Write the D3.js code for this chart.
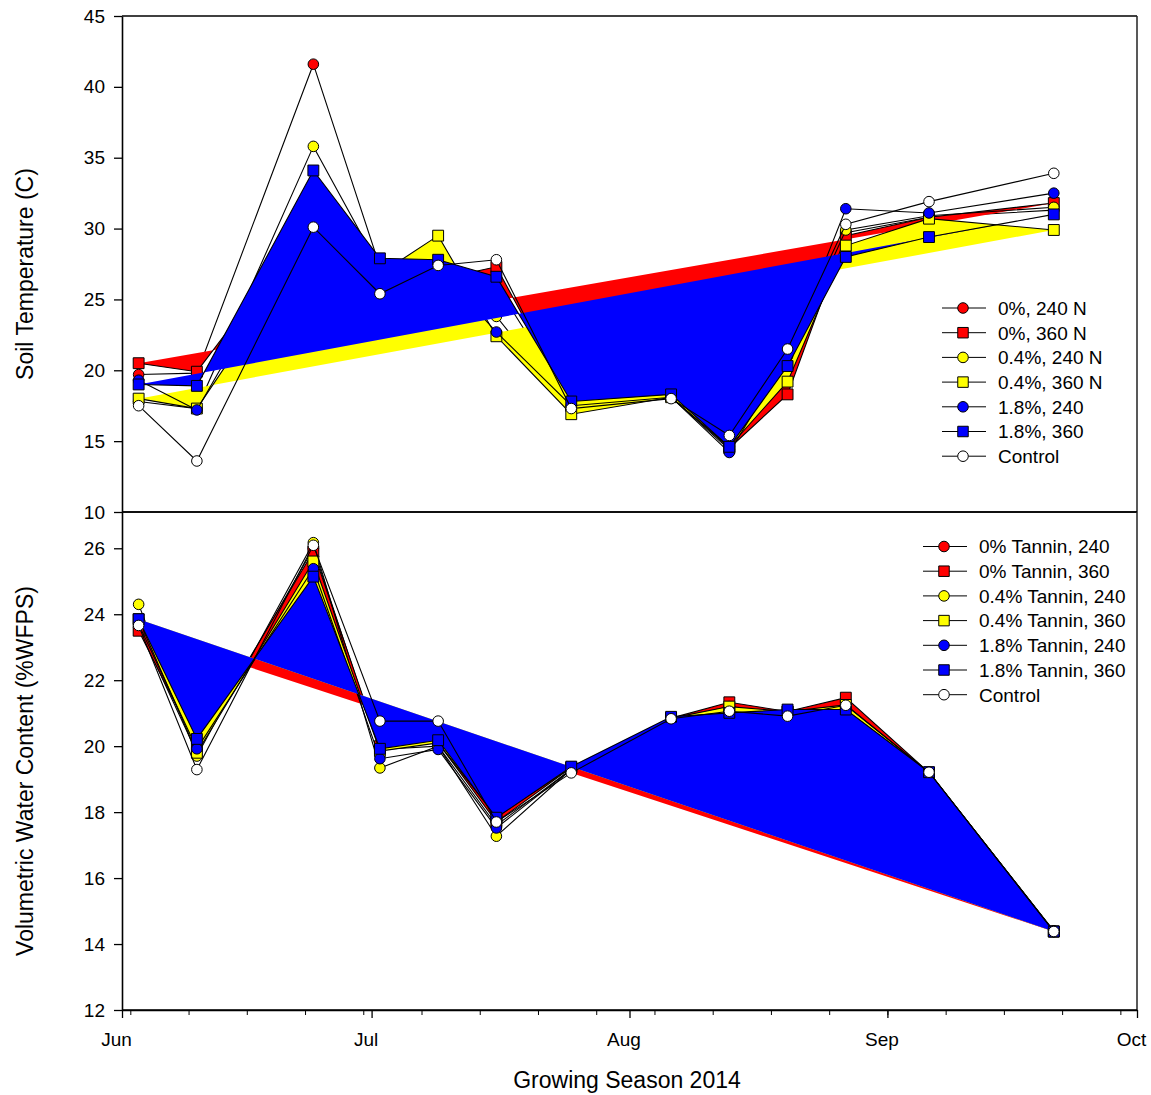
<!DOCTYPE html>
<html>
<head>
<meta charset="utf-8">
<script src="https://cdn.jsdelivr.net/npm/d3@7"></script>
<style>
  body { margin: 0; background: #fff; }
  svg text { font-family: "Liberation Sans", Arial, sans-serif; fill: #000; }
</style>
</head>
<body>
<svg id="chart" width="1151" height="1095"></svg>
<script>
// sampling dates, growing season 2014
var dates = ["2014-06-03", "2014-06-10", "2014-06-24", "2014-07-02", "2014-07-09", "2014-07-16",
             "2014-07-25", "2014-08-06", "2014-08-13", "2014-08-20", "2014-08-27", "2014-09-06", "2014-09-21"];

var tempNames = ["0%, 240 N", "0%, 360 N", "0.4%, 240 N", "0.4%, 360 N", "1.8%, 240", "1.8%, 360", "Control"];
var waterNames = ["0% Tannin, 240", "0% Tannin, 360", "0.4% Tannin, 240", "0.4% Tannin, 360",
                  "1.8% Tannin, 240", "1.8% Tannin, 360", "Control"];
var seriesColors = ["#ff0000", "#ff0000", "#ffff00", "#ffff00", "#0000ff", "#0000ff", "#ffffff"];
var seriesShapes = ["circle", "square", "circle", "square", "circle", "square", "circle"];

// soil temperature (C)
var temp0_240   = [19.7, 19.8, 41.6, 27.3, 27.0, 26.0, 17.6, 18.1, 14.4, 20.5, 29.7, 30.8, 31.3];
var temp0_360   = [20.5, 19.9, 30.8, 27.0, 26.4, 27.3, 17.5, 18.2, 14.5, 18.3, 29.5, 30.8, 31.8];
var temp04_240  = [17.8, 17.3, 35.8, 27.2, 26.5, 23.8, 17.2, 18.1, 14.6, 20.8, 29.9, 30.9, 31.5];
var temp04_360  = [18.0, 17.3, 29.5, 26.8, 29.5, 22.4, 16.9, 18.1, 14.6, 19.2, 28.8, 30.7, 29.9];
var temp18_240  = [19.3, 17.2, 31.5, 26.5, 27.2, 22.7, 17.5, 18.1, 14.2, 21.0, 31.4, 31.1, 32.5];
var temp18_360  = [19.0, 18.9, 34.1, 27.9, 27.8, 26.6, 17.8, 18.3, 14.6, 20.3, 28.0, 29.4, 31.0];
var tempControl = [17.5, 13.6, 30.1, 25.4, 27.4, 27.8, 17.3, 18.0, 15.4, 21.5, 30.3, 31.9, 33.9];

// volumetric water content (%WFPS)
var vwc0_240   = [23.6, 19.8, 26.0, 19.9, 20.0, 17.6, 19.3, 20.8, 21.1, 21.0, 21.2, 19.2, 14.4];
var vwc0_360   = [23.5, 20.0, 25.9, 20.0, 20.1, 17.7, 19.35, 20.85, 21.33, 21.05, 21.47, 19.2, 14.38];
var vwc04_240  = [24.3, 19.7, 26.17, 19.34, 20.0, 17.27, 19.3, 20.8, 21.2, 21.0, 21.2, 19.2, 14.38];
var vwc04_360  = [23.85, 19.8, 25.6, 19.85, 20.1, 17.85, 19.35, 20.85, 21.2, 21.05, 21.25, 19.2, 14.38];
var vwc18_240  = [23.7, 19.92, 25.38, 19.62, 19.9, 17.52, 19.3, 20.85, 21.0, 21.05, 21.1, 19.2, 14.38];
var vwc18_360  = [23.85, 20.22, 25.14, 19.92, 20.18, 17.83, 19.38, 20.89, 21.01, 21.11, 21.11, 19.21, 14.38];
var vwcControl = [23.66, 19.29, 26.09, 20.76, 20.76, 17.7, 19.19, 20.83, 21.06, 20.91, 21.24, 19.21, 14.38];

var tempTicks = [10, 15, 20, 25, 30, 35, 40, 45];
var vwcTicks = [12, 14, 16, 18, 20, 22, 24, 26];

var parseDate = d3.timeParse("%Y-%m-%d");
var when = dates.map(parseDate);

var svg = d3.select("#chart");
var left = 122, right = 1137;

var x = d3.scaleTime()
  .domain([parseDate("2014-06-01"), parseDate("2014-10-01")])
  .range([left, right]);

function buildSeries(names, lists) {
  return names.map(function(n, i) {
    return { name: n, values: lists[i], color: seriesColors[i], shape: seriesShapes[i],
             filled: seriesShapes[i] == "square" && i < 6 };
  });
}

function markerPath(shape) {
  if (shape == "square") return d3.symbol().type(d3.symbolSquare).size(118)();
  return d3.symbol().type(d3.symbolCircle).size(88)();
}

// draws one panel: fills, lines, symbols, y axis, frame, legend
function drawPanel(series, domain, top, bottom, ticks, title, legend) {
  var y = d3.scaleLinear().domain(domain).range([bottom, top]);
  var g = svg.append("g");

  var line = d3.line()
    .x(function(d, i) { return x(when[i]); })
    .y(function(d) { return y(d); });

  series.forEach(function(s) {
    // SigmaPlot style area fill: the polyline closed from last point back to first
    if (s.filled) {
      g.append("path")
        .attr("d", line(s.values) + "Z")
        .attr("fill", s.color)
        .attr("stroke", "none");
    }
    g.append("path")
      .attr("d", line(s.values))
      .attr("fill", "none")
      .attr("stroke", "#000")
      .attr("stroke-width", 1.1);
    g.selectAll(null)
      .data(s.values)
      .enter().append("path")
      .attr("d", markerPath(s.shape))
      .attr("transform", function(d, i) { return "translate(" + x(when[i]) + "," + y(d) + ")"; })
      .attr("fill", s.color)
      .attr("stroke", "#000")
      .attr("stroke-width", 1);
  });

  // frame
  g.append("line").attr("x1", left).attr("x2", right).attr("y1", top).attr("y2", top)
    .attr("stroke", "#000").attr("stroke-width", 1.3);
  g.append("line").attr("x1", right).attr("x2", right).attr("y1", top).attr("y2", bottom)
    .attr("stroke", "#222").attr("stroke-width", 1.5);
  g.append("line").attr("x1", left).attr("x2", right).attr("y1", bottom).attr("y2", bottom)
    .attr("stroke", "#000").attr("stroke-width", 1.3);

  var yAxis = g.append("g")
    .attr("transform", "translate(" + left + ",0)")
    .call(d3.axisLeft(y).tickValues(ticks).tickSize(8).tickSizeOuter(0).tickPadding(9));
  yAxis.selectAll("text").style("font-size", "19px");
  yAxis.select(".domain").attr("stroke-width", 1.6);
  yAxis.selectAll(".tick line").attr("stroke-width", 1.3);

  svg.append("text")
    .attr("transform", "translate(33," + ((top + bottom) / 2 + 10) + ") rotate(-90)")
    .attr("text-anchor", "middle")
    .style("font-size", "23px")
    .text(title);

  var lg = svg.append("g").attr("transform", "translate(" + legend.x + "," + legend.y + ")");
  series.forEach(function(s, i) {
    var row = lg.append("g").attr("transform", "translate(0," + (i * legend.step) + ")");
    row.append("line").attr("x1", 0).attr("x2", 44).attr("stroke", "#000").attr("stroke-width", 1);
    row.append("path")
      .attr("d", d3.symbol().type(s.shape == "square" ? d3.symbolSquare : d3.symbolCircle)
        .size(s.shape == "square" ? 110 : 88)())
      .attr("transform", "translate(21,0)")
      .attr("fill", s.color)
      .attr("stroke", "#000");
    row.append("text")
      .attr("x", 56)
      .attr("dy", "0.36em")
      .style("font-size", "19px")
      .text(s.name);
  });
  return y;
}

var tempSeries = buildSeries(tempNames,
  [temp0_240, temp0_360, temp04_240, temp04_360, temp18_240, temp18_360, tempControl]);
var vwcSeries = buildSeries(waterNames,
  [vwc0_240, vwc0_360, vwc04_240, vwc04_360, vwc18_240, vwc18_360, vwcControl]);

drawPanel(tempSeries, [10, 45], 16, 512, tempTicks, "Soil Temperature (C)",
  { x: 942, y: 308, step: 24.7 });
drawPanel(vwcSeries, [12, 27.1], 512, 1010, vwcTicks, "Volumetric Water Content (%WFPS)",
  { x: 923, y: 546.5, step: 24.7 });

// shared date axis at the bottom: monthly labels, weekly minor ticks
var minor = svg.append("g")
  .attr("transform", "translate(0,1010)")
  .call(d3.axisBottom(x).ticks(d3.timeMonday.every(1)).tickSize(5).tickSizeOuter(0).tickFormat(""));
minor.select(".domain").remove();

var major = svg.append("g")
  .attr("transform", "translate(0,1010)")
  .call(d3.axisBottom(x).ticks(d3.timeMonth.every(1)).tickFormat(d3.timeFormat("%b"))
    .tickSize(8).tickSizeOuter(0));
major.select(".domain").attr("stroke-width", 1.5);
major.selectAll(".tick line").attr("stroke-width", 1.3);
major.selectAll("text")
  .attr("x", -6)
  .attr("y", 36)
  .attr("dy", 0)
  .style("font-size", "19px");

svg.append("text")
  .attr("x", 627)
  .attr("y", 1088)
  .attr("text-anchor", "middle")
  .style("font-size", "23px")
  .text("Growing Season 2014");
</script>
</body>
</html>
